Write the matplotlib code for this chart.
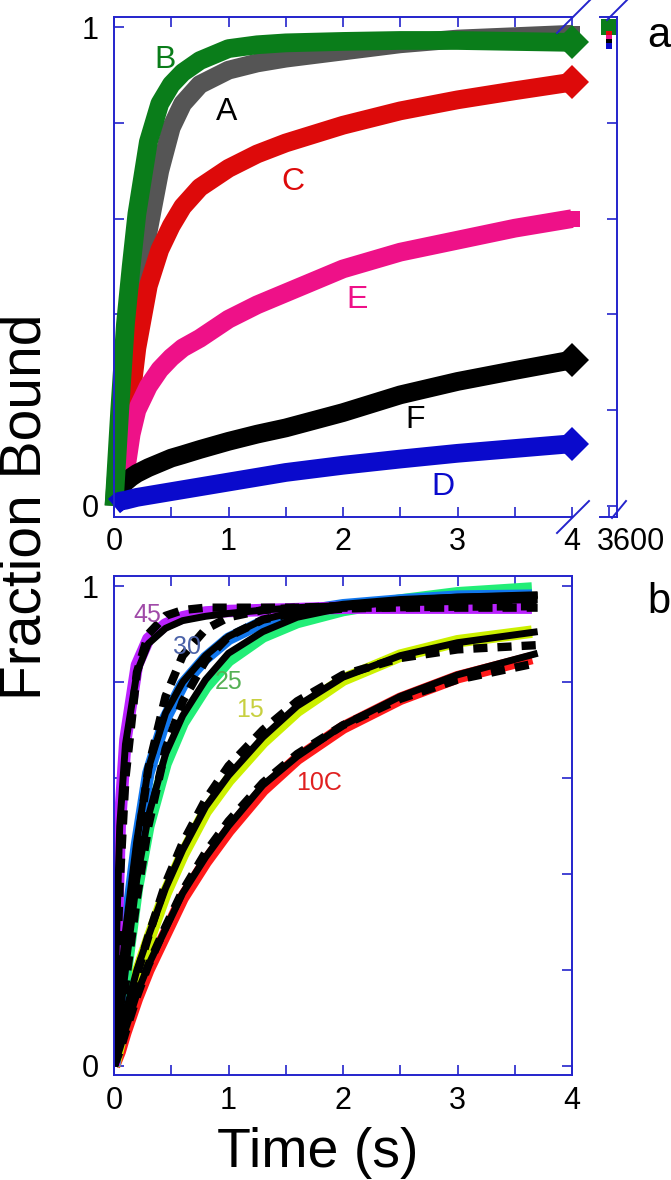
import numpy as np
import matplotlib.pyplot as plt
from matplotlib.lines import Line2D
import matplotlib.transforms as mtransforms

plt.rcParams['font.family'] = ['Liberation Sans', 'DejaVu Sans']

W, H = 671, 1180
spine_col = '#2424cc'

# ---------- panel a: traces A-F (time in s, fraction bound) ----------
t_a = [0, 0.05, 0.1, 0.15, 0.2, 0.3, 0.4, 0.5, 0.6, 0.75, 1.0, 1.25, 1.5, 2.0, 2.5, 3.0, 3.5, 4.0]
trace_A = [0, 0.15, 0.28, 0.37, 0.45, 0.575, 0.70, 0.79, 0.84, 0.88, 0.91, 0.925, 0.935, 0.95, 0.965, 0.975, 0.98, 0.985]
trace_B = [0, 0.20, 0.38, 0.50, 0.61, 0.76, 0.84, 0.88, 0.905, 0.93, 0.955, 0.963, 0.967, 0.97, 0.972, 0.972, 0.97, 0.968]
trace_C = [0, 0.03, 0.12, 0.23, 0.33, 0.46, 0.535, 0.585, 0.625, 0.665, 0.705, 0.735, 0.758, 0.795, 0.825, 0.848, 0.867, 0.885]
trace_D = [0, 0.01, 0.012, 0.015, 0.018, 0.022, 0.026, 0.03, 0.034, 0.04, 0.05, 0.06, 0.07, 0.085, 0.098, 0.11, 0.12, 0.13]
trace_E = [0, 0.03, 0.07, 0.15, 0.20, 0.25, 0.285, 0.31, 0.33, 0.35, 0.39, 0.42, 0.445, 0.495, 0.53, 0.555, 0.58, 0.60]
trace_F = [0.02, 0.035, 0.05, 0.06, 0.068, 0.08, 0.09, 0.10, 0.107, 0.118, 0.135, 0.15, 0.163, 0.195, 0.232, 0.26, 0.283, 0.305]

# values at 3600 s
at_3600 = {'A': 1.0, 'B': 1.0, 'C': 0.985, 'E': 0.977, 'F': 0.969, 'D': 0.96}

# ---------- panel b: temperature series (data + two fits) ----------
t_fit = [0, 0.02, 0.05, 0.1, 0.2, 0.3, 0.45, 0.6, 0.8, 1.0, 1.3, 1.6, 2.0, 2.5, 3.0, 3.7]
t_dat = [0, 0.02, 0.05, 0.1, 0.2, 0.3, 0.45, 0.6, 0.8, 1.0, 1.3, 1.6, 2.0, 2.5, 3.0, 3.65]

data_45 = [0, 0.25, 0.50, 0.68, 0.835, 0.89, 0.92, 0.935, 0.945, 0.948, 0.95, 0.952, 0.955, 0.955, 0.955, 0.955]
solid_45 = [0, 0.25, 0.50, 0.67, 0.82, 0.88, 0.912, 0.928, 0.937, 0.943, 0.95, 0.955, 0.96, 0.965, 0.968, 0.972]
dash_45 = [0, 0.17, 0.38, 0.60, 0.82, 0.90, 0.938, 0.95, 0.955, 0.955, 0.955, 0.955, 0.955, 0.955, 0.955, 0.955]

data_30 = [0, 0.06, 0.14, 0.27, 0.46, 0.61, 0.725, 0.795, 0.85, 0.89, 0.925, 0.945, 0.96, 0.97, 0.978, 0.98]
solid_30 = [0, 0.06, 0.15, 0.28, 0.47, 0.62, 0.735, 0.80, 0.855, 0.895, 0.93, 0.948, 0.962, 0.972, 0.977, 0.98]
dash_30 = [0, 0.05, 0.12, 0.24, 0.45, 0.62, 0.77, 0.855, 0.91, 0.935, 0.95, 0.955, 0.958, 0.96, 0.962, 0.963]

data_25 = [0, 0.04, 0.09, 0.19, 0.37, 0.50, 0.63, 0.715, 0.79, 0.845, 0.895, 0.925, 0.95, 0.97, 0.985, 0.995]
solid_25 = [0, 0.04, 0.10, 0.20, 0.39, 0.52, 0.65, 0.73, 0.805, 0.86, 0.905, 0.935, 0.955, 0.97, 0.977, 0.982]
dash_25 = [0, 0.03, 0.08, 0.17, 0.35, 0.50, 0.66, 0.76, 0.845, 0.895, 0.93, 0.945, 0.953, 0.956, 0.957, 0.958]

data_15 = [0, 0.02, 0.05, 0.10, 0.19, 0.26, 0.36, 0.44, 0.53, 0.595, 0.675, 0.74, 0.805, 0.855, 0.885, 0.905]
solid_15 = [0, 0.025, 0.06, 0.11, 0.20, 0.27, 0.37, 0.45, 0.54, 0.605, 0.685, 0.75, 0.81, 0.855, 0.882, 0.905]
dash_15 = [0, 0.02, 0.05, 0.10, 0.19, 0.27, 0.38, 0.465, 0.555, 0.625, 0.70, 0.76, 0.815, 0.85, 0.868, 0.877]

data_10 = [0, 0.012, 0.03, 0.07, 0.14, 0.20, 0.275, 0.35, 0.425, 0.49, 0.575, 0.64, 0.705, 0.765, 0.81, 0.85]
solid_10 = [0, 0.014, 0.035, 0.075, 0.15, 0.21, 0.285, 0.36, 0.435, 0.50, 0.585, 0.645, 0.71, 0.77, 0.815, 0.86]
dash_10 = [0, 0.012, 0.03, 0.07, 0.145, 0.21, 0.29, 0.365, 0.445, 0.51, 0.59, 0.65, 0.71, 0.765, 0.805, 0.84]

fig = plt.figure(figsize=(W / 100, H / 100), dpi=100)


def style_axes(ax):
    for s in ax.spines.values():
        s.set_color(spine_col)
        s.set_linewidth(1.4)
    ax.tick_params(which='both', direction='in', length=7, width=1.2,
                   color=spine_col, labelsize=22, labelcolor='black')


# ---- panel a ----
ax_a = fig.add_axes([114 / W, 1 - 517 / H, 458 / W, 500 / H])
style_axes(ax_a)
ax_a.spines['right'].set_visible(False)

curves_a = [
    (trace_A, '#555555', 's'),
    (trace_C, '#dd0a0a', 'D'),
    (trace_E, '#ee1188', 's'),
    (trace_F, 'black', 'D'),
    (trace_B, '#0a7d1a', 'D'),
    (trace_D, '#0a0acc', 'D'),
]
for vals, col, mk in curves_a:
    ax_a.plot(t_a, vals, color=col, lw=13.5, solid_capstyle='butt',
              solid_joinstyle='round', marker=mk, markevery=[-1],
              markersize=17 if mk == 'D' else 12, markeredgewidth=0,
              clip_on=False)

labels_a = [('B', 0.445, 0.931, '#0a7d1a'), ('A', 0.98, 0.823, 'black'),
            ('C', 1.56, 0.676, '#dd0a0a'), ('E', 2.12, 0.43, '#ee1188'),
            ('F', 2.63, 0.18, 'black'), ('D', 2.87, 0.039, '#0a0acc')]
for txt, x, y, col in labels_a:
    ax_a.text(x, y, txt, color=col, fontsize=23, ha='center', va='center')

ax_a.set_xlim(0, 4)
ax_a.set_ylim(-0.023, 1.021)
ax_a.set_xticks(np.arange(0, 4.01, 0.5))
ax_a.set_xticklabels(['0', '', '1', '', '2', '', '3', '', '4'])
ax_a.set_yticks(np.arange(0, 1.01, 0.2))
ax_a.set_yticklabels(['0', '', '', '', '', '1'])
ax_a.tick_params(axis='x', top=True, bottom=True, pad=7)
ax_a.tick_params(axis='y', left=True, right=False, pad=11)

# right segment (3600 s)
ax_r = fig.add_axes([600 / W, 1 - 517 / H, 17 / W, 500 / H])
style_axes(ax_r)
ax_r.spines['left'].set_visible(False)
ax_r.set_xlim(3590, 3610)
ax_r.set_ylim(-0.023, 1.021)
ax_r.set_xticks([3600])
ax_r.set_xticklabels(['3600'])
ax_r.set_yticks(np.arange(0, 1.01, 0.2))
ax_r.tick_params(axis='y', left=False, right=True, labelleft=False)
ax_r.tick_params(axis='x', top=True, bottom=True, pad=7)
shift = mtransforms.ScaledTranslation(0.22, 0, fig.dpi_scale_trans)
for lbl in ax_r.get_xticklabels():
    lbl.set_transform(lbl.get_transform() + shift)

cols_3600 = {'A': '#555555', 'B': '#0a7d1a', 'C': '#dd0a0a', 'E': '#ee1188',
             'F': 'black', 'D': '#0a0acc'}
for key in ['A', 'B']:
    ax_r.plot([3600], [at_3600[key]], 's', color=cols_3600[key], ms=11,
              mew=0, clip_on=False)
for key in ['C', 'E', 'F', 'D']:
    ax_r.plot([3600], [at_3600[key]], 's', color=cols_3600[key], ms=5,
              mew=0, clip_on=False)

# axis break marks
for (x0, y0), (x1, y1) in [((557, 533), (589, 501)), ((557, 33), (590, 0)),
                           ((612, 518), (626, 501)), ((607, 20), (627, 0))]:
    fig.add_artist(Line2D([x0 / W, x1 / W], [1 - y0 / H, 1 - y1 / H],
                          transform=fig.transFigure, color=spine_col, lw=1.4))

# ---- panel b ----
ax_b = fig.add_axes([114 / W, 1 - 1075 / H, 458 / W, 499 / H])
style_axes(ax_b)

series_b = [
    (data_10, solid_10, dash_10, '#ff1a1a'),
    (data_15, solid_15, dash_15, '#ccf000'),
    (data_25, solid_25, dash_25, '#22ee77'),
    (data_30, solid_30, dash_30, '#1177ee'),
    (data_45, solid_45, dash_45, '#bb22ff'),
]
for dat, sol, das, col in series_b:
    ax_b.plot(t_dat, dat, color=col, lw=9, solid_capstyle='butt')
for dat, sol, das, col in series_b:
    ax_b.plot(t_fit, sol, color='black', lw=5, solid_capstyle='butt')
    ax_b.plot(t_fit, das, color='black', lw=6, dashes=(1.7, 1.2),
              dash_capstyle='butt')

labels_b = [('45', 0.29, 0.94, '#a04aa8'), ('30', 0.64, 0.873, '#4a62a8'),
            ('25', 1.0, 0.80, '#55b055'), ('15', 1.19, 0.742, '#c8d040'),
            ('10C', 1.79, 0.59, '#e02020')]
for txt, x, y, col in labels_b:
    ax_b.text(x, y, txt, color=col, fontsize=18, ha='center', va='center')

ax_b.set_xlim(0, 4)
ax_b.set_ylim(-0.019, 1.021)
ax_b.set_xticks(np.arange(0, 4.01, 0.5))
ax_b.set_xticklabels(['0', '', '1', '', '2', '', '3', '', '4'])
ax_b.set_yticks(np.arange(0, 1.01, 0.2))
ax_b.set_yticklabels(['0', '', '', '', '', '1'])
ax_b.tick_params(axis='x', top=True, bottom=True, pad=8)
ax_b.tick_params(axis='y', left=True, right=True, pad=11)

# labels
fig.text(26 / W, 1 - 507 / H, 'Fraction Bound', rotation=90, fontsize=41,
         ha='center', va='center')
fig.text(318 / W, 1 - 1167 / H, 'Time (s)', fontsize=40, ha='center',
         va='baseline')
fig.text(659 / W, 1 - 47 / H, 'a', fontsize=30, ha='center', va='baseline')
fig.text(659 / W, 1 - 613 / H, 'b', fontsize=30, ha='center', va='baseline')

fig.savefig('out.png', dpi=100)
